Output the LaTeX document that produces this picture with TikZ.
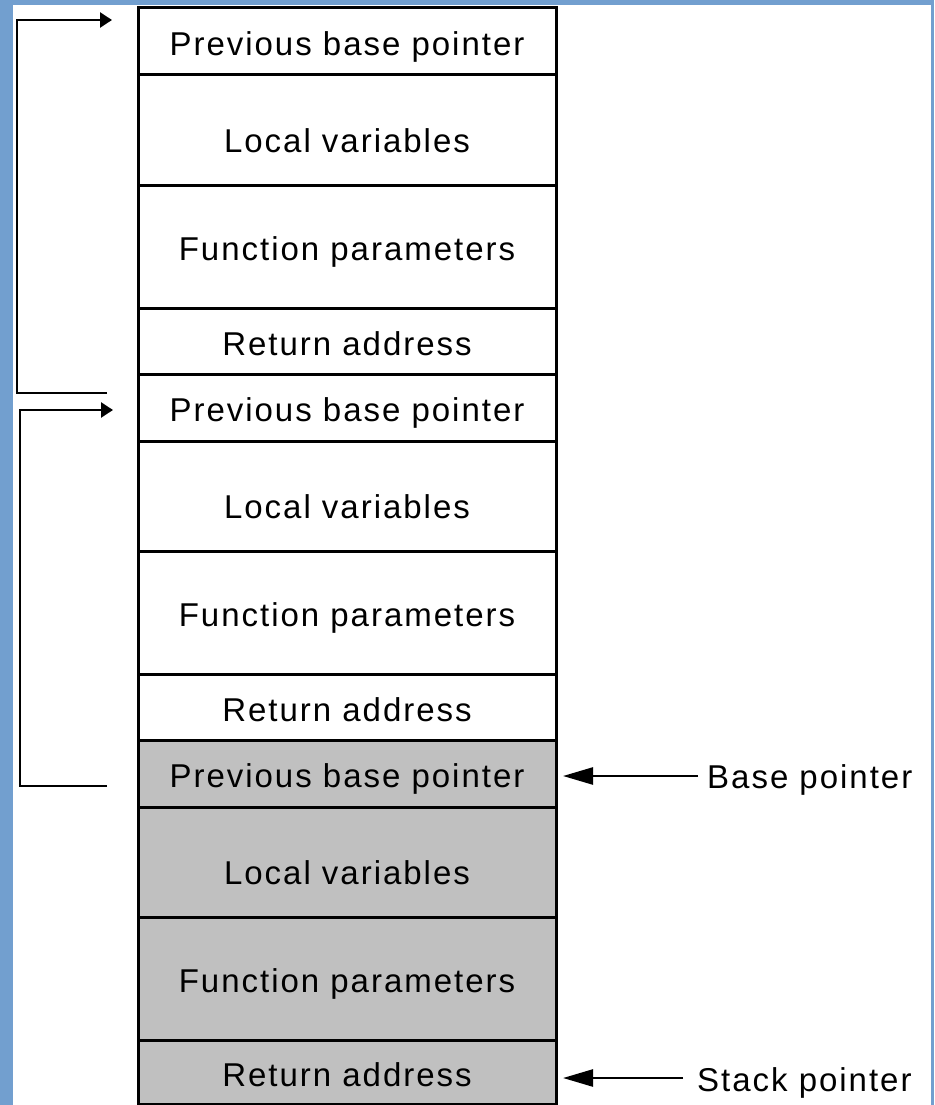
\documentclass[tikz,border=0pt]{standalone}
\usepackage{fontspec}
\setmainfont{Liberation Sans}[LetterSpace=6]
\usetikzlibrary{arrows.meta, positioning}
\definecolor{framegrey}{RGB}{192,192,192}
\definecolor{bgblue}{RGB}{114,159,207}
\tikzset{
  cell/.style = {draw=black, line width=3pt, minimum width=418pt,
    inner sep=0pt, outer sep=0pt, text height=28pt, text depth=0pt},
  pbp_n/.style = {cell, minimum height=67pt},
  lv_n/.style = {cell, minimum height=110pt, text height=44pt},
  fp_n/.style = {cell, minimum height=123pt},
  ra_n/.style = {cell, minimum height=66pt},
  cur/.style = {fill=framegrey},
  ptr_label/.style = {inner sep=0pt, anchor=west, text height=24pt, text depth=0pt},
  link/.style = {line width=2.5pt, -{Triangle[length=12pt, width=15pt]}},
  ptr/.style = {line width=2.5pt, -{Triangle[length=30pt, width=17pt]}}}

\begin{document}
\begin{tikzpicture}[x=1pt, y=-1pt, font=\fontsize{33}{40}\selectfont]
 \fill[bgblue] (0,0) rectangle (934,1105);
 \fill[white] (13,5) rectangle (931,1105);
 \useasboundingbox (0,0) rectangle (934,1105);

% oldest frame
\node [pbp_n] (pbp1) at (347,41.5) {Previous base pointer};
\node [lv_n, below=0pt of pbp1] (lv1) {Local variables};
\node [fp_n, below=0pt of lv1] (fp1) {Function parameters};
\node [ra_n, below=0pt of fp1] (ra1) {Return address};
% caller frame
\node [pbp_n, below=0pt of ra1] (pbp2) {Previous base pointer};
\node [lv_n, below=0pt of pbp2] (lv2) {Local variables};
\node [fp_n, below=0pt of lv2] (fp2) {Function parameters};
\node [ra_n, below=0pt of fp2] (ra2) {Return address};
% current frame
\node [pbp_n, cur, below=0pt of ra2] (pbp3) {Previous base pointer};
\node [lv_n, cur, below=0pt of pbp3] (lv3) {Local variables};
\node [fp_n, cur, below=0pt of lv3] (fp3) {Function parameters};
\node [ra_n, cur, minimum height=64pt, below=0pt of fp3] (ra3) {Return address};

% saved base pointer chain
\coordinate (tail1) at (107,393);
\coordinate (head1) at (112,20);
\coordinate (tail2) at (107,786);
\coordinate (head2) at (113,410);
\draw [link] (tail1) -- ++(-90,0) |- (head1);
\draw [link] (tail2) -- ++(-87,0) |- (head2);

% registers
\node [ptr_label] (bp) at (707,776.5) {Base pointer};
\node [ptr_label] (sp) at (697,1079) {Stack pointer};
\draw [ptr, shorten <=9pt, shorten >=7pt] (bp.west |- 0,776) -- (pbp3.east |- 0,776);
\draw [ptr, shorten <=14pt, shorten >=7pt] (sp.west |- 0,1078) -- (ra3.east |- 0,1078);
\end{tikzpicture}
\end{document}
